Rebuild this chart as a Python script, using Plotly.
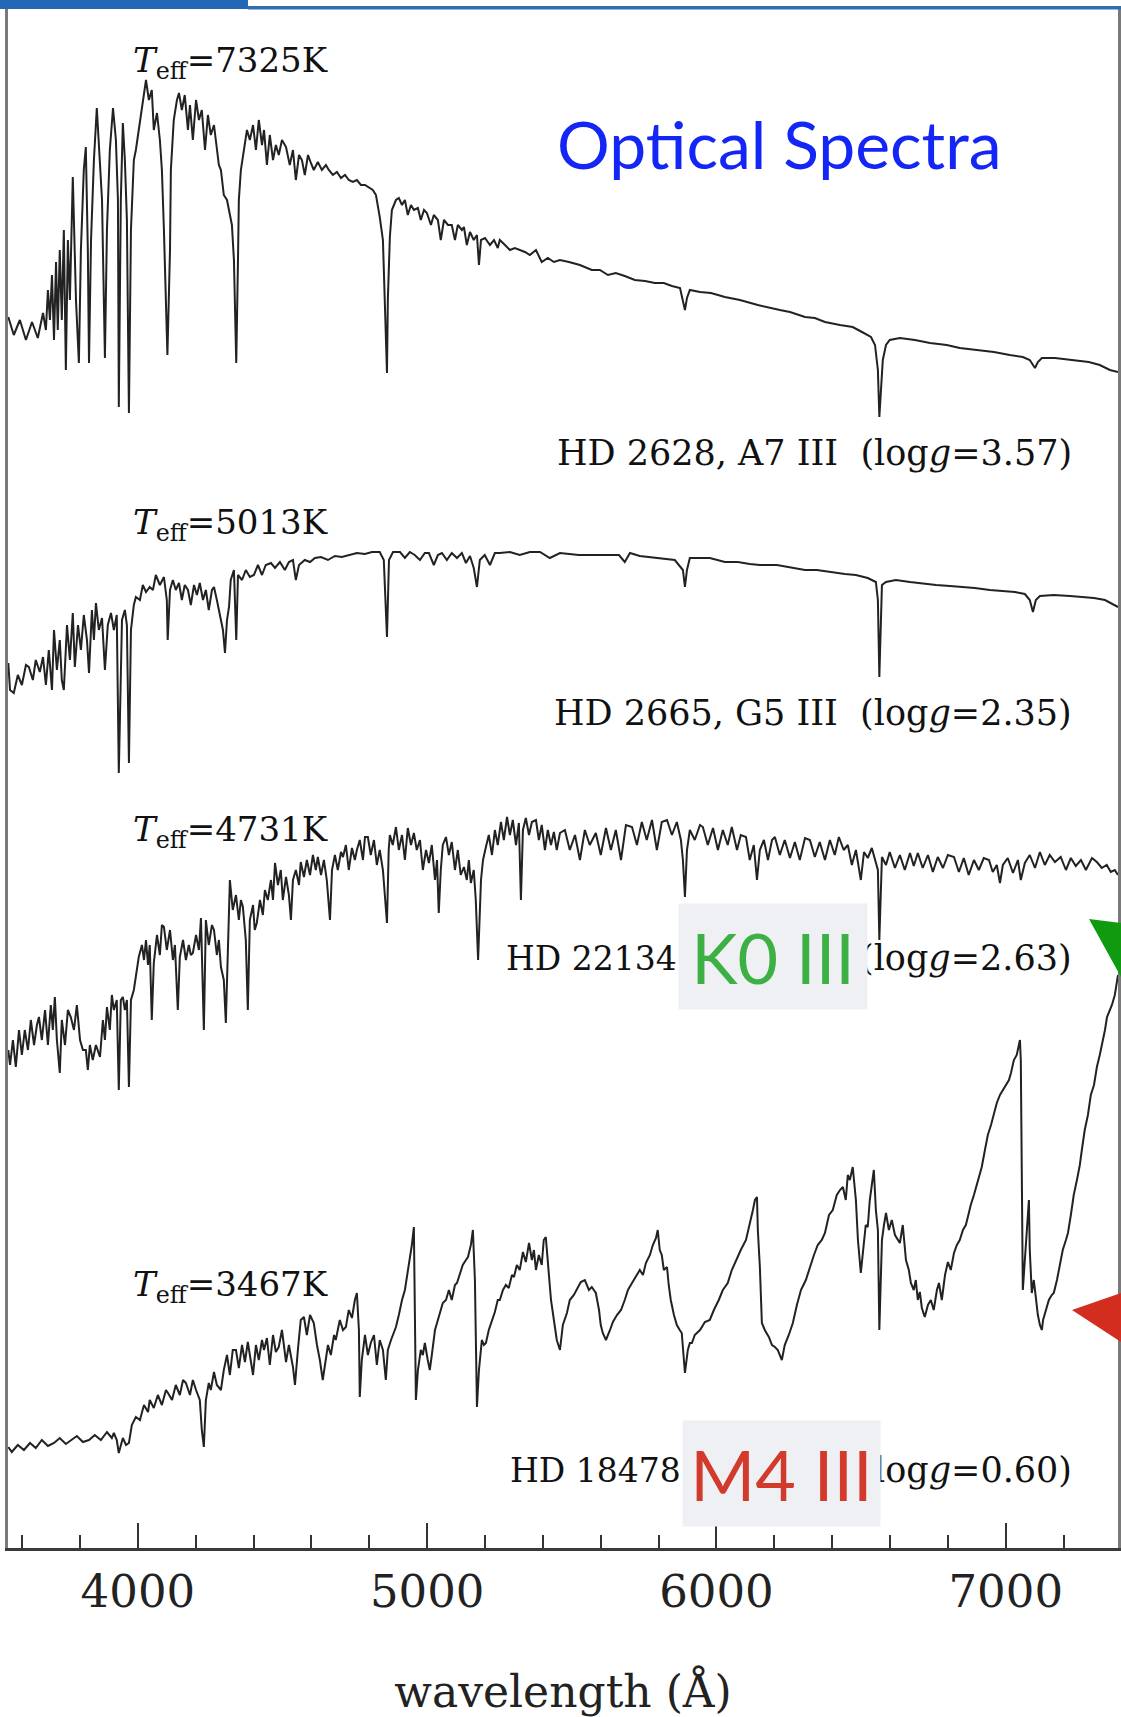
import plotly.graph_objects as go

# ---------------------------------------------------------------
# Spectra: (wavelength [Angstrom], relative flux + vertical offset)
# ---------------------------------------------------------------
hd2628 = [
    (3552, 12.31), (3571, 12.13), (3592, 12.28), (3613, 12.08), (3634, 12.26), (3654, 12.10),
    (3672, 12.35), (3682, 12.18), (3689, 12.58), (3696, 12.28), (3703, 12.73), (3710, 12.08),
    (3717, 12.86), (3723, 12.18), (3730, 12.98), (3737, 12.28), (3744, 13.18), (3751, 11.78),
    (3758, 13.08), (3765, 12.48), (3775, 13.71), (3786, 12.48), (3796, 11.85), (3803, 12.98),
    (3813, 13.78), (3820, 14.01), (3827, 12.98), (3831, 11.85), (3838, 13.08), (3848, 13.88),
    (3858, 14.40), (3865, 14.08), (3876, 13.48), (3886, 11.90), (3893, 13.18), (3903, 13.98),
    (3914, 14.40), (3924, 14.08), (3931, 13.48), (3934, 11.41), (3941, 13.48), (3948, 14.25),
    (3955, 13.88), (3962, 13.28), (3969, 11.35), (3976, 13.18), (3986, 13.88), (3993, 13.98),
    (4007, 14.28), (4017, 14.48), (4028, 14.68), (4038, 14.48), (4048, 14.58), (4055, 14.18),
    (4066, 14.35), (4076, 14.08), (4083, 13.78), (4090, 13.18), (4097, 12.48), (4102, 11.93),
    (4111, 12.98), (4114, 13.78), (4124, 14.28), (4135, 14.48), (4142, 14.55), (4152, 14.38),
    (4162, 14.53), (4173, 14.18), (4180, 14.43), (4190, 14.08), (4201, 14.48), (4211, 14.28),
    (4221, 14.38), (4232, 13.98), (4242, 14.33), (4252, 14.13), (4263, 14.23), (4273, 13.98),
    (4280, 13.83), (4287, 13.78), (4297, 13.53), (4308, 13.48), (4318, 13.35), (4325, 13.23),
    (4332, 12.88), (4340, 11.85), (4346, 12.88), (4349, 13.48), (4356, 13.78), (4366, 13.98),
    (4377, 14.18), (4387, 14.08), (4398, 14.23), (4408, 13.98), (4418, 14.28), (4429, 14.03),
    (4436, 14.18), (4446, 13.83), (4456, 14.13), (4467, 13.88), (4477, 14.03), (4487, 13.93),
    (4498, 14.08), (4512, 14.01), (4525, 13.83), (4536, 13.98), (4546, 13.68), (4557, 13.93),
    (4567, 13.88), (4577, 13.73), (4588, 13.93), (4598, 13.85), (4608, 13.78), (4622, 13.86),
    (4636, 13.78), (4650, 13.83), (4660, 13.78), (4674, 13.73), (4688, 13.76), (4702, 13.70),
    (4716, 13.73), (4729, 13.68), (4743, 13.66), (4757, 13.68), (4771, 13.63), (4785, 13.63),
    (4799, 13.60), (4812, 13.58), (4823, 13.53), (4830, 13.43), (4836, 13.31), (4847, 13.08),
    (4854, 12.48), (4861, 11.75), (4864, 12.48), (4871, 13.11), (4878, 13.38), (4892, 13.48),
    (4902, 13.50), (4913, 13.43), (4923, 13.48), (4933, 13.33), (4944, 13.43), (4954, 13.38),
    (4968, 13.40), (4978, 13.28), (4989, 13.38), (4999, 13.35), (5013, 13.23), (5023, 13.33),
    (5037, 13.28), (5047, 13.08), (5058, 13.28), (5072, 13.23), (5085, 13.23), (5096, 13.08),
    (5106, 13.23), (5120, 13.18), (5127, 13.21), (5137, 13.03), (5148, 13.16), (5161, 13.08),
    (5172, 13.13), (5179, 12.83), (5186, 13.08), (5200, 13.10), (5217, 13.03), (5231, 13.08),
    (5244, 13.00), (5251, 13.08), (5269, 13.03), (5286, 12.98), (5303, 13.00), (5320, 12.98),
    (5338, 12.96), (5355, 12.93), (5376, 12.98), (5396, 12.86), (5417, 12.90), (5438, 12.86),
    (5459, 12.88), (5490, 12.86), (5528, 12.83), (5569, 12.78), (5597, 12.78), (5625, 12.73),
    (5652, 12.75), (5683, 12.72), (5718, 12.68), (5753, 12.67), (5787, 12.65), (5818, 12.65),
    (5846, 12.62), (5874, 12.60), (5884, 12.48), (5891, 12.38), (5898, 12.50), (5908, 12.58),
    (5943, 12.56), (5981, 12.55), (6029, 12.51), (6081, 12.48), (6143, 12.43), (6185, 12.40),
    (6219, 12.38), (6254, 12.36), (6306, 12.31), (6340, 12.30), (6375, 12.26), (6427, 12.23),
    (6471, 12.21), (6503, 12.16), (6534, 12.11), (6548, 12.03), (6558, 11.78), (6563, 11.31),
    (6568, 11.53), (6575, 11.88), (6586, 12.03), (6599, 12.08), (6634, 12.10), (6686, 12.08),
    (6738, 12.05), (6796, 12.03), (6841, 12.00), (6893, 11.98), (6959, 11.96), (7014, 11.93),
    (7059, 11.91), (7083, 11.88), (7101, 11.80), (7111, 11.86), (7125, 11.90), (7170, 11.90),
    (7222, 11.88), (7287, 11.86), (7325, 11.83), (7360, 11.78), (7388, 11.76),
]

hd2665 = [
    (3552, 8.85), (3558, 8.58), (3571, 8.55), (3585, 8.73), (3599, 8.63), (3613, 8.83),
    (3623, 8.81), (3637, 8.68), (3647, 8.88), (3661, 8.76), (3672, 8.91), (3682, 8.63),
    (3692, 8.98), (3703, 8.58), (3710, 9.18), (3720, 8.78), (3730, 9.08), (3737, 8.68),
    (3744, 8.58), (3755, 9.23), (3765, 8.88), (3775, 9.35), (3782, 8.81), (3793, 9.23),
    (3803, 8.98), (3813, 9.33), (3824, 9.08), (3831, 8.75), (3841, 9.38), (3848, 9.08),
    (3855, 9.45), (3865, 9.18), (3876, 9.30), (3886, 8.78), (3896, 9.23), (3907, 9.35),
    (3917, 9.18), (3927, 9.33), (3934, 7.75), (3945, 9.28), (3955, 9.38), (3962, 9.23),
    (3969, 7.85), (3976, 9.18), (3986, 9.43), (3993, 9.51), (4007, 9.48), (4017, 9.63),
    (4028, 9.56), (4041, 9.61), (4052, 9.58), (4062, 9.73), (4076, 9.63), (4090, 9.71),
    (4100, 9.48), (4103, 9.08), (4111, 9.58), (4121, 9.68), (4131, 9.58), (4142, 9.65),
    (4152, 9.48), (4162, 9.63), (4173, 9.58), (4183, 9.43), (4194, 9.63), (4204, 9.53),
    (4214, 9.65), (4225, 9.48), (4235, 9.58), (4245, 9.38), (4256, 9.58), (4263, 9.61),
    (4273, 9.48), (4283, 9.33), (4294, 9.18), (4301, 8.95), (4308, 9.28), (4315, 9.41),
    (4321, 9.68), (4332, 9.78), (4340, 9.08), (4346, 9.73), (4360, 9.68), (4373, 9.78),
    (4387, 9.71), (4401, 9.73), (4415, 9.83), (4429, 9.73), (4442, 9.83), (4460, 9.85),
    (4474, 9.80), (4491, 9.86), (4508, 9.78), (4522, 9.86), (4536, 9.88), (4546, 9.68),
    (4557, 9.83), (4577, 9.88), (4595, 9.86), (4612, 9.90), (4633, 9.91), (4657, 9.88),
    (4681, 9.92), (4705, 9.91), (4733, 9.93), (4757, 9.95), (4785, 9.94), (4809, 9.96),
    (4836, 9.96), (4850, 9.88), (4861, 9.11), (4868, 9.88), (4882, 9.96), (4906, 9.96),
    (4923, 9.90), (4940, 9.96), (4957, 9.93), (4975, 9.88), (4992, 9.95), (5006, 9.95),
    (5023, 9.83), (5037, 9.93), (5051, 9.95), (5068, 9.88), (5085, 9.95), (5103, 9.90),
    (5120, 9.95), (5134, 9.85), (5148, 9.92), (5161, 9.80), (5172, 9.61), (5182, 9.88),
    (5199, 9.93), (5217, 9.83), (5234, 9.95), (5251, 9.95), (5286, 9.96), (5320, 9.93),
    (5355, 9.96), (5390, 9.96), (5424, 9.90), (5459, 9.95), (5524, 9.93), (5597, 9.93),
    (5663, 9.93), (5683, 9.86), (5701, 9.95), (5735, 9.92), (5797, 9.90), (5856, 9.88),
    (5884, 9.78), (5891, 9.61), (5898, 9.78), (5908, 9.90), (5936, 9.90), (5977, 9.90),
    (6029, 9.86), (6074, 9.86), (6115, 9.84), (6150, 9.83), (6209, 9.83), (6254, 9.81),
    (6306, 9.78), (6347, 9.78), (6392, 9.76), (6444, 9.74), (6482, 9.73), (6523, 9.70),
    (6551, 9.66), (6558, 9.48), (6563, 8.71), (6572, 9.63), (6586, 9.66), (6620, 9.68),
    (6669, 9.66), (6720, 9.64), (6759, 9.63), (6807, 9.62), (6893, 9.60), (6945, 9.58),
    (7032, 9.56), (7066, 9.54), (7083, 9.48), (7094, 9.36), (7104, 9.48), (7118, 9.52),
    (7166, 9.53), (7222, 9.52), (7305, 9.50), (7343, 9.48), (7367, 9.44), (7388, 9.41),
]

hd221345 = [
    (3552, 4.98), (3558, 4.83), (3568, 5.08), (3578, 4.81), (3589, 5.18), (3599, 4.93),
    (3609, 5.18), (3620, 4.98), (3630, 5.28), (3641, 5.03), (3651, 5.23), (3658, 5.31),
    (3668, 5.08), (3679, 5.38), (3689, 5.03), (3699, 5.43), (3706, 5.18), (3713, 5.51),
    (3720, 5.08), (3730, 4.75), (3737, 5.28), (3748, 5.03), (3758, 5.38), (3768, 5.31),
    (3779, 5.18), (3789, 5.43), (3800, 5.08), (3810, 4.98), (3820, 4.98), (3827, 4.78),
    (3834, 5.03), (3844, 4.88), (3855, 5.03), (3869, 4.91), (3879, 5.28), (3886, 5.08),
    (3893, 5.41), (3903, 5.18), (3910, 5.53), (3917, 5.38), (3927, 5.48), (3934, 4.58),
    (3941, 5.48), (3948, 5.51), (3955, 5.38), (3962, 5.48), (3969, 4.61), (3976, 5.48),
    (3986, 5.58), (3997, 5.78), (4003, 5.91), (4014, 6.03), (4021, 5.88), (4028, 6.08),
    (4035, 5.83), (4041, 6.03), (4048, 5.28), (4055, 5.85), (4066, 6.13), (4076, 5.93),
    (4083, 6.23), (4090, 6.21), (4100, 5.98), (4111, 6.18), (4121, 5.88), (4128, 6.03),
    (4138, 5.38), (4145, 5.91), (4156, 6.08), (4166, 5.88), (4176, 6.03), (4183, 5.93),
    (4190, 5.95), (4201, 6.13), (4211, 5.98), (4218, 6.30), (4228, 5.18), (4235, 6.28),
    (4245, 6.03), (4256, 6.23), (4263, 6.18), (4273, 5.93), (4280, 6.08), (4287, 5.81),
    (4297, 5.68), (4304, 5.25), (4311, 5.88), (4318, 6.68), (4328, 6.38), (4339, 6.53),
    (4349, 6.28), (4356, 6.48), (4363, 6.41), (4373, 6.08), (4380, 5.38), (4387, 6.28),
    (4398, 6.43), (4404, 6.18), (4411, 6.25), (4422, 6.48), (4432, 6.33), (4439, 6.58),
    (4449, 6.48), (4460, 6.68), (4467, 6.48), (4474, 6.85), (4484, 6.63), (4494, 6.78),
    (4501, 6.48), (4512, 6.71), (4522, 6.53), (4529, 6.28), (4536, 6.68), (4546, 6.78),
    (4557, 6.63), (4563, 6.86), (4574, 6.71), (4584, 6.88), (4595, 6.73), (4605, 6.93),
    (4615, 6.78), (4622, 6.91), (4633, 6.73), (4643, 6.88), (4653, 6.68), (4664, 6.28),
    (4671, 6.78), (4681, 6.93), (4691, 6.78), (4702, 6.96), (4709, 6.91), (4719, 7.03),
    (4729, 6.78), (4740, 7.00), (4750, 6.88), (4757, 6.98), (4767, 7.08), (4778, 6.88),
    (4785, 7.11), (4795, 7.11), (4805, 6.93), (4816, 7.08), (4826, 6.83), (4836, 6.98),
    (4847, 6.78), (4861, 6.25), (4867, 6.98), (4871, 7.13), (4881, 7.03), (4892, 7.21),
    (4902, 6.98), (4913, 7.13), (4923, 6.88), (4933, 7.20), (4944, 7.03), (4954, 7.15),
    (4964, 6.98), (4975, 7.08), (4985, 6.78), (4996, 6.98), (5006, 6.85), (5016, 7.03),
    (5027, 6.68), (5034, 6.88), (5040, 6.35), (5047, 6.78), (5054, 7.03), (5065, 7.11),
    (5075, 6.93), (5085, 7.06), (5096, 6.78), (5106, 6.98), (5116, 6.73), (5127, 6.81),
    (5137, 6.68), (5144, 6.88), (5151, 6.65), (5161, 6.78), (5168, 6.48), (5176, 5.88),
    (5186, 6.68), (5193, 6.88), (5203, 7.01), (5213, 7.13), (5224, 6.93), (5234, 7.18),
    (5244, 7.03), (5255, 7.26), (5265, 7.08), (5276, 7.31), (5286, 7.13), (5296, 7.28),
    (5307, 7.03), (5317, 7.25), (5324, 6.48), (5331, 7.18), (5341, 7.30), (5352, 7.13),
    (5362, 7.26), (5376, 7.28), (5386, 7.08), (5396, 7.23), (5407, 6.98), (5417, 7.18),
    (5428, 7.03), (5438, 7.16), (5448, 6.98), (5459, 7.15), (5476, 7.18), (5493, 6.98),
    (5511, 7.13), (5528, 6.88), (5545, 7.18), (5562, 7.03), (5583, 7.15), (5600, 6.93),
    (5618, 7.20), (5635, 6.98), (5652, 7.18), (5670, 6.88), (5687, 7.23), (5708, 7.21),
    (5725, 7.03), (5742, 7.26), (5759, 7.08), (5777, 7.28), (5794, 6.98), (5811, 7.26),
    (5829, 7.28), (5846, 7.13), (5863, 7.26), (5877, 7.08), (5884, 6.88), (5891, 6.51),
    (5898, 6.98), (5908, 7.18), (5925, 7.08), (5943, 7.23), (5953, 7.21), (5970, 7.03),
    (5988, 7.20), (6005, 6.98), (6022, 7.18), (6039, 7.03), (6053, 7.21), (6071, 6.98),
    (6084, 7.13), (6102, 7.11), (6115, 6.88), (6129, 7.03), (6140, 6.68), (6150, 6.98),
    (6164, 7.08), (6178, 6.88), (6192, 7.08), (6202, 7.11), (6219, 6.93), (6236, 7.08),
    (6254, 6.90), (6271, 7.06), (6288, 6.88), (6306, 7.10), (6323, 7.08), (6340, 6.91),
    (6357, 7.06), (6375, 6.88), (6392, 7.08), (6409, 6.93), (6423, 7.11), (6440, 6.98),
    (6454, 7.03), (6468, 6.83), (6482, 6.98), (6499, 6.68), (6510, 6.96), (6523, 6.90),
    (6537, 7.00), (6551, 6.86), (6558, 6.78), (6563, 6.08), (6572, 6.91), (6586, 6.83),
    (6599, 6.96), (6617, 6.80), (6634, 6.93), (6651, 6.78), (6669, 6.95), (6682, 6.82),
    (6696, 6.95), (6713, 6.80), (6731, 6.93), (6748, 6.76), (6765, 6.91), (6783, 6.80),
    (6800, 6.93), (6821, 6.91), (6838, 6.76), (6855, 6.90), (6872, 6.73), (6890, 6.88),
    (6907, 6.78), (6924, 6.90), (6942, 6.88), (6955, 6.76), (6969, 6.83), (6980, 6.65),
    (6990, 6.83), (7007, 6.90), (7025, 6.75), (7042, 6.88), (7052, 6.68), (7066, 6.85),
    (7083, 6.93), (7101, 6.80), (7118, 6.96), (7135, 6.83), (7152, 6.93), (7170, 6.86),
    (7190, 6.91), (7208, 6.78), (7225, 6.90), (7242, 6.82), (7260, 6.88), (7277, 6.78),
    (7298, 6.90), (7315, 6.86), (7332, 6.80), (7349, 6.83), (7363, 6.76), (7377, 6.78),
    (7388, 6.73),
]

hd184786 = [
    (3552, 1.01), (3564, 0.96), (3585, 1.03), (3606, 0.98), (3627, 1.05), (3647, 1.00),
    (3668, 1.08), (3689, 1.02), (3710, 1.05), (3730, 1.10), (3751, 1.04), (3768, 1.08),
    (3789, 1.12), (3810, 1.06), (3831, 1.08), (3851, 1.13), (3872, 1.08), (3893, 1.16),
    (3910, 1.10), (3917, 1.15), (3927, 1.08), (3934, 0.95), (3948, 1.10), (3959, 1.03),
    (3969, 1.05), (3979, 1.23), (3993, 1.31), (4007, 1.28), (4021, 1.43), (4035, 1.36),
    (4041, 1.48), (4055, 1.40), (4069, 1.53), (4083, 1.43), (4097, 1.58), (4104, 1.55),
    (4118, 1.48), (4131, 1.63), (4145, 1.53), (4156, 1.68), (4166, 1.65), (4180, 1.53),
    (4190, 1.68), (4201, 1.58), (4214, 1.48), (4221, 1.18), (4228, 1.01), (4235, 1.48),
    (4245, 1.65), (4252, 1.58), (4263, 1.76), (4273, 1.63), (4287, 1.58), (4297, 1.78),
    (4308, 1.93), (4318, 1.73), (4328, 1.98), (4339, 1.98), (4349, 1.80), (4360, 2.03),
    (4370, 1.86), (4380, 2.06), (4387, 1.91), (4398, 1.73), (4408, 2.03), (4418, 1.88),
    (4429, 2.08), (4436, 1.98), (4446, 2.10), (4456, 1.83), (4467, 2.13), (4477, 1.96),
    (4487, 2.01), (4498, 2.18), (4512, 1.86), (4522, 2.03), (4536, 1.81), (4543, 1.63),
    (4553, 1.98), (4563, 2.28), (4574, 2.31), (4584, 2.13), (4595, 2.33), (4608, 2.25),
    (4619, 2.03), (4629, 1.88), (4639, 1.68), (4646, 1.83), (4657, 2.03), (4667, 1.93),
    (4678, 2.13), (4684, 2.08), (4698, 2.28), (4709, 2.18), (4719, 2.21), (4729, 2.38),
    (4740, 2.30), (4750, 2.48), (4757, 2.55), (4764, 2.18), (4767, 1.51), (4774, 1.88),
    (4785, 2.13), (4795, 1.93), (4805, 2.05), (4816, 2.13), (4826, 1.83), (4836, 2.08),
    (4847, 1.98), (4857, 1.68), (4864, 1.98), (4875, 2.08), (4882, 2.13), (4892, 2.21),
    (4902, 2.33), (4913, 2.48), (4923, 2.58), (4930, 2.71), (4941, 2.88), (4947, 3.03),
    (4954, 3.21), (4958, 2.48), (4961, 1.48), (4968, 1.78), (4978, 1.98), (4985, 1.93),
    (4992, 2.05), (5002, 1.88), (5009, 1.78), (5016, 1.93), (5027, 2.18), (5037, 2.28),
    (5047, 2.38), (5054, 2.45), (5065, 2.48), (5075, 2.58), (5085, 2.48), (5096, 2.63),
    (5103, 2.65), (5113, 2.73), (5123, 2.83), (5134, 2.88), (5141, 2.91), (5151, 3.03),
    (5158, 3.18), (5165, 2.68), (5172, 1.41), (5179, 1.78), (5189, 2.08), (5196, 2.03),
    (5203, 2.05), (5213, 2.18), (5224, 2.28), (5234, 2.36), (5244, 2.48), (5251, 2.48),
    (5262, 2.58), (5272, 2.63), (5282, 2.60), (5293, 2.73), (5300, 2.71), (5310, 2.83),
    (5320, 2.78), (5331, 2.96), (5341, 2.86), (5352, 3.05), (5362, 2.88), (5369, 2.98),
    (5376, 2.78), (5386, 2.93), (5396, 2.83), (5403, 3.08), (5410, 3.11), (5417, 2.83),
    (5428, 2.48), (5438, 2.28), (5448, 2.08), (5459, 1.98), (5469, 2.23), (5483, 2.35),
    (5493, 2.48), (5507, 2.53), (5521, 2.60), (5531, 2.66), (5545, 2.68), (5559, 2.58),
    (5569, 2.61), (5583, 2.55), (5594, 2.38), (5600, 2.23), (5607, 2.15), (5618, 2.08),
    (5632, 2.18), (5642, 2.26), (5656, 2.33), (5670, 2.38), (5683, 2.48), (5694, 2.58),
    (5708, 2.65), (5721, 2.71), (5735, 2.78), (5746, 2.73), (5756, 2.85), (5770, 2.93),
    (5780, 3.03), (5791, 3.10), (5797, 3.18), (5804, 2.98), (5811, 2.93), (5818, 2.78),
    (5829, 2.81), (5835, 2.63), (5842, 2.48), (5853, 2.33), (5863, 2.23), (5873, 2.18),
    (5880, 2.15), (5891, 1.75), (5901, 1.98), (5908, 2.05), (5915, 2.05), (5925, 2.13),
    (5943, 2.18), (5960, 2.26), (5977, 2.28), (5991, 2.38), (6008, 2.48), (6022, 2.58),
    (6039, 2.65), (6053, 2.78), (6071, 2.90), (6084, 2.98), (6102, 3.08), (6115, 3.23),
    (6126, 3.38), (6133, 3.48), (6140, 3.51), (6143, 3.18), (6150, 2.81), (6157, 2.25),
    (6167, 2.18), (6181, 2.11), (6192, 2.03), (6202, 2.01), (6212, 1.98), (6226, 1.88),
    (6236, 2.03), (6250, 2.13), (6264, 2.25), (6278, 2.43), (6292, 2.58), (6309, 2.68),
    (6323, 2.81), (6337, 2.93), (6350, 3.03), (6364, 3.08), (6375, 3.15), (6389, 3.33),
    (6402, 3.38), (6416, 3.53), (6427, 3.58), (6437, 3.61), (6447, 3.48), (6454, 3.73),
    (6461, 3.68), (6471, 3.81), (6482, 3.48), (6489, 3.08), (6499, 2.75), (6510, 3.08),
    (6516, 3.23), (6523, 3.21), (6530, 3.48), (6537, 3.63), (6544, 3.78), (6551, 3.38),
    (6558, 3.18), (6563, 2.18), (6572, 3.08), (6579, 3.23), (6586, 3.35), (6596, 3.18),
    (6606, 3.28), (6617, 3.13), (6627, 3.08), (6634, 3.05), (6644, 3.23), (6655, 2.88),
    (6665, 2.78), (6672, 2.65), (6682, 2.58), (6689, 2.68), (6696, 2.48), (6703, 2.56),
    (6710, 2.40), (6720, 2.31), (6731, 2.43), (6741, 2.48), (6751, 2.38), (6762, 2.58),
    (6769, 2.65), (6779, 2.48), (6790, 2.73), (6800, 2.86), (6810, 2.78), (6821, 2.95),
    (6831, 3.03), (6841, 3.08), (6852, 3.18), (6862, 3.23), (6869, 3.31), (6879, 3.43),
    (6890, 3.53), (6900, 3.63), (6910, 3.73), (6917, 3.81), (6928, 3.98), (6938, 4.13),
    (6949, 4.23), (6959, 4.33), (6969, 4.45), (6980, 4.53), (6990, 4.58), (7000, 4.63),
    (7011, 4.68), (7018, 4.75), (7028, 4.88), (7038, 4.93), (7045, 5.03), (7049, 5.08),
    (7052, 4.88), (7056, 3.68), (7059, 2.58), (7066, 2.88), (7073, 3.18), (7080, 3.48),
    (7083, 2.98), (7090, 2.55), (7097, 2.68), (7104, 2.48), (7111, 2.33), (7118, 2.23),
    (7125, 2.18), (7129, 2.28), (7139, 2.38), (7149, 2.48), (7159, 2.53), (7166, 2.55),
    (7177, 2.68), (7187, 2.83), (7197, 2.98), (7208, 3.08), (7215, 3.15), (7225, 3.33),
    (7235, 3.53), (7246, 3.68), (7256, 3.83), (7263, 3.98), (7273, 4.18), (7284, 4.33),
    (7294, 4.53), (7305, 4.63), (7315, 4.81), (7325, 4.93), (7336, 5.08), (7343, 5.18),
    (7350, 5.31), (7360, 5.38), (7367, 5.43), (7377, 5.53), (7388, 5.73),
]

spectra = [hd2628, hd2665, hd221345, hd184786]

# Temperature labels above each spectrum
teff_labels = ["7325K", "5013K", "4731K", "3467K"]
teff_label_y = [14.86, 10.24, 7.17, 2.62]

# Star designations (right-aligned); for the two lower stars the part hidden
# behind the spectral-type tag is left out and the visible pieces are drawn.
star_labels_full = [
    "HD 2628, A7 III\u00a0\u00a0(log<i>g</i>=3.57)",
    "HD 2665, G5 III\u00a0\u00a0(log<i>g</i>=2.35)",
]
star_labels_full_y = [10.95, 8.35]
star_labels_left = ["HD 22134", "HD 18478"]
star_labels_right = ["(log<i>g</i>=2.63)", "log<i>g</i>=0.60)"]
star_labels_split_y = [5.90, 0.78]

# Spectral-type call-outs
type_tags = ["K0 III", "M4 III"]
type_tag_colors = ["#3cb043", "#d23a2c"]
type_tag_x = [6195, 6224]
type_tag_y = [5.915, 0.745]
type_tag_width = [188, 197]
type_tag_left = [5870, 5884]

major_ticks = [4000, 5000, 6000, 7000]

SERIF = "DejaVu Serif"
SANS = "Lato"
INK = "#111111"
LABEL_RIGHT = 7236

fig = go.Figure()
for spec in spectra:
    wl = [p[0] for p in spec]
    fl = [p[1] for p in spec]
    fig.add_trace(go.Scatter(
        x=wl, y=fl, mode="lines",
        line=dict(color="#222222", width=2.0),
        hoverinfo="skip",
    ))

annotations = []
for lab, yv in zip(teff_labels, teff_label_y):
    annotations.append(dict(
        x=3975, y=yv, xref="x", yref="y", xanchor="left", yanchor="middle",
        text="<i>T</i><sub>eff</sub>=" + lab, showarrow=False,
        font=dict(family=SERIF, size=34, color=INK),
    ))
for lab, yv in zip(star_labels_full, star_labels_full_y):
    annotations.append(dict(
        x=LABEL_RIGHT, y=yv, xref="x", yref="y", xanchor="right", yanchor="middle",
        text=lab, showarrow=False,
        font=dict(family=SERIF, size=35, color=INK),
    ))
for left, right, yv, xl in zip(star_labels_left, star_labels_right,
                               star_labels_split_y, type_tag_left):
    annotations.append(dict(
        x=xl, y=yv, xref="x", yref="y", xanchor="right", yanchor="middle",
        text=left, showarrow=False,
        font=dict(family=SERIF, size=33, color=INK),
    ))
    annotations.append(dict(
        x=LABEL_RIGHT, y=yv, xref="x", yref="y", xanchor="right", yanchor="middle",
        text=right, showarrow=False,
        font=dict(family=SERIF, size=35, color=INK),
    ))
for tag, col, xv, yv, w in zip(type_tags, type_tag_colors, type_tag_x, type_tag_y,
                               type_tag_width):
    annotations.append(dict(
        x=xv, y=yv, xref="x", yref="y", xanchor="center", yanchor="middle",
        text=tag, showarrow=False, width=w, height=105, borderpad=0,
        bgcolor="#eef0f4", align="center", valign="middle",
        font=dict(family=SANS, size=70, color=col),
    ))
annotations.append(dict(
    x=6219, y=14.05, xref="x", yref="y", xanchor="center", yanchor="middle",
    text="Optical Spectra", showarrow=False,
    font=dict(family=SANS, size=66, color="#1426f5"),
))

shapes = [
    # header band along the top edge
    dict(type="rect", xref="paper", yref="paper", x0=-0.0072, x1=0.2162,
         y0=0.99935, y1=1.0052, fillcolor="#2368b8", line=dict(width=0), layer="above"),
    dict(type="rect", xref="paper", yref="paper", x0=0.2162, x1=1.003,
         y0=0.99903, y1=1.0013, fillcolor="#2f6db3", line=dict(width=0), layer="above"),
    # pointer heads at the right edge
    dict(type="path", xref="paper", yref="paper",
         path="M 0.97387 0.40844 L 1.0027 0.40584 L 1.0027 0.37078 Z",
         fillcolor="#0f9a0f", line=dict(width=0), layer="above"),
    dict(type="path", xref="paper", yref="paper",
         path="M 0.95856 0.15455 L 1.0027 0.16558 L 1.0027 0.13377 Z",
         fillcolor="#d22d1e", line=dict(width=0), layer="above"),
]

fig.update_layout(
    width=1121, height=1717,
    margin=dict(l=8, r=3, t=8, b=169),
    paper_bgcolor="white", plot_bgcolor="white",
    showlegend=False,
    annotations=annotations,
    shapes=shapes,
    xaxis=dict(
        range=[3551, 7388], autorange=False,
        tickmode="array", tickvals=major_ticks,
        ticktext=[str(v) for v in major_ticks],
        ticks="inside", ticklen=25, tickwidth=1.6, tickcolor="#333333",
        minor=dict(tick0=3600, dtick=200, ticks="inside", ticklen=13,
                   tickwidth=1.6, tickcolor="#333333"),
        showline=True, linecolor="#3a3a3a", linewidth=2.5,
        showgrid=False, zeroline=False,
        tickfont=dict(family=SERIF, size=45, color="#222222"),
        ticklabelstandoff=2,
        title=dict(text="wavelength (Å)", font=dict(family=SERIF, size=44, color="#222222"),
                   standoff=62),
        automargin=False,
    ),
    yaxis=dict(
        range=[0, 15.4], autorange=False,
        showticklabels=False, ticks="",
        showline=True, mirror=True, linecolor="#7a7a7a", linewidth=3,
        showgrid=False, zeroline=False,
        automargin=False,
    ),
)

fig.write_html("out.html")
